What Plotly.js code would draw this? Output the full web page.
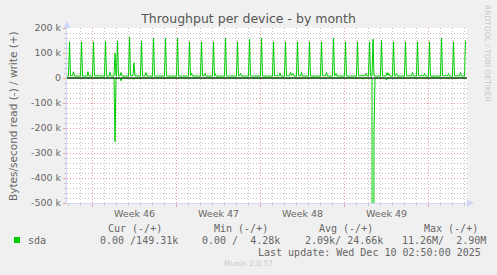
<!DOCTYPE html>
<html>
<head>
<meta charset="utf-8">
<script src="https://cdn.plot.ly/plotly-3.0.1.min.js"></script>
<style>
  html, body { margin: 0; padding: 0; background: #f0f0f0; }
  #chart { width: 497px; height: 275px; }
</style>
</head>
<body>
<div id="chart"></div>
<script>
// ---- Data (x in hours from the left edge of the 33-day window, y in bytes/second) ----
const writeHours = [
  0, 3, 5, 7, 11, 13, 15, 27, 29, 31, 40, 42, 44, 51, 53, 55, 75, 77, 79, 84, 86, 88,
  94, 96, 98, 99, 101, 103, 106, 108, 110, 123, 125, 127, 132, 134, 136, 147, 149, 151,
  156, 158, 160, 171, 173, 175, 195, 197, 199, 219, 221, 223, 243, 245, 247, 249, 251,
  267, 269, 271, 274, 276, 278, 291, 293, 295, 296, 298, 315, 317, 319, 339, 341, 343,
  345, 347, 349, 363, 365, 367, 387, 389, 391, 411, 413, 415, 424, 426, 428, 435, 437,
  439, 445, 447, 449, 452, 454, 459, 461, 463, 467, 469, 471, 483, 485, 487, 507, 509,
  511, 517, 519, 521, 531, 533, 535, 536, 538, 540, 555, 557, 559, 579, 581, 583, 596,
  598, 600, 603, 605, 607, 610, 612, 614, 627, 629, 631, 638, 640, 642, 644, 646, 651,
  653, 655, 657, 659, 661, 675, 677, 679, 689, 691, 693, 699, 701, 703, 713, 715, 717,
  723, 725, 727, 747, 749, 751, 761, 763, 765, 771, 773, 775, 785, 787, 789, 795, 797
];
const writeValues = [
  8000, 8000, 145000, 9000, 9000, 25000, 8000, 8000, 145000, 8000, 8000, 25000, 8000, 8000, 145000, 9000, 8000, 148000, 8000, 8000, 23000, 8000,
  8000, 100000, 9000, 8000, 148000, 9000, 9000, 22000, 8000, 8000, 165000, 9000, 10000, 61000, 9000, 8000, 148000, 8000,
  9000, 22000, 8000, 8000, 160000, 8000, 8000, 160000, 8000, 8000, 160000, 8000, 8000, 145000, 9000, 20000, 8000,
  8000, 145000, 9000, 9000, 18000, 8000, 8000, 145000, 9000, 18000, 8000, 8000, 160000, 8000, 8000, 145000, 9000,
  9000, 18000, 8000, 8000, 155000, 8000, 8000, 160000, 8000, 8000, 145000, 9000, 9000, 20000, 8000, 8000, 145000,
  9000, 9000, 22000, 10000, 18000, 8000, 8000, 145000, 9000, 9000, 22000, 8000, 8000, 145000, 8000, 8000, 145000,
  9000, 9000, 22000, 8000, 8000, 160000, 9000, 9000, 18000, 8000, 8000, 145000, 8000, 8000, 145000, 9000, 9000,
  18000, 8000, 8000, 145000, 8000, 8000, 155000, 8000, 8000, 150000, 9000, 9000, 22000, 10000, 18000, 8000, 8000,
  145000, 9000, 9000, 18000, 8000, 8000, 145000, 9000, 9000, 22000, 8000, 8000, 145000, 9000, 9000, 18000, 8000,
  8000, 145000, 8000, 8000, 160000, 9000, 9000, 18000, 8000, 8000, 145000, 9000, 9000, 22000, 8000, 8000, 149310
];
const readHours  = [0, 94, 96, 98, 106, 108, 110, 132, 134, 136, 590, 592, 594, 610, 612, 614, 616, 637, 639, 641, 800];
const readValues = [0, 0, -255000, 0, 0, -11000, 0, 0, -5000, 0, 0, -5000, 0, 0, -11260000, -220000, 0, 0, -8000, 0, 0];

const weekBoundaryHours = [50, 218, 386, 554, 722];
const weekLabelHours = [134, 302, 470, 638];
const weekLabels = ['Week 46', 'Week 47', 'Week 48', 'Week 49'];
const yTickVals = [-500000, -400000, -300000, -200000, -100000, 0, 100000, 200000];
const yTickText = ['-500 k', '-400 k', '-300 k', '-200 k', '-100 k', '0', '100 k', '200 k'];

const seriesName = 'sda';
const legendHeaders = ['Cur (-/+)', 'Min (-/+)', 'Avg (-/+)', 'Max (-/+)'];
const legendValues = ['0.00 /149.31k', '0.00 /  4.28k', '2.09k/ 24.66k', '11.26M/  2.90M'];
const lastUpdate = 'Last update: Wed Dec 10 02:50:00 2025';

// ---- Layout helpers (pixel -> paper) ----
const W = 497, H = 275, L = 67, R = 30, T = 28, B = 72;
const PW = W - L - R, PH = H - T - B;
const px = x => (x - L) / PW;
const py = y => (H - B - y) / PH;
const nb = s => s.replace(/ /g, '\u00a0');

const GREEN = '#00cc00';
const FONT = '#666666';
const MONO = 'DejaVu Sans Mono, monospace';
const SANS = 'DejaVu Sans, sans-serif';

const traces = [
  { x: readHours, y: readValues, type: 'scatter', mode: 'lines',
    line: { color: GREEN, width: 1, simplify: false }, hoverinfo: 'skip' },
  { x: writeHours, y: writeValues, type: 'scatter', mode: 'lines',
    line: { color: GREEN, width: 1, simplify: false }, hoverinfo: 'skip' }
];

const annotations = [];
weekLabelHours.forEach((h, i) => annotations.push({
  x: h, xref: 'x', y: py(213), yref: 'paper', text: weekLabels[i], showarrow: false,
  xanchor: 'center', yanchor: 'middle', font: { family: SANS, size: 9.5, color: FONT }
}));
annotations.push({
  x: px(13), y: py(116), xref: 'paper', yref: 'paper', text: 'Bytes/second read (-) / write (+)',
  textangle: -90, showarrow: false, xanchor: 'center', yanchor: 'middle',
  font: { family: SANS, size: 10.5, color: FONT }
});
annotations.push({
  x: px(488), y: py(53), xref: 'paper', yref: 'paper', text: 'RRDTOOL / TOBI OETIKER',
  textangle: 90, showarrow: false, xanchor: 'center', yanchor: 'middle',
  font: { family: SANS, size: 7.5, color: '#c8c8c8' }
});
const hdrX = [107, 213, 318, 423];
const valX = [99, 201, 304, 401];
legendHeaders.forEach((t, i) => annotations.push({
  x: px(hdrX[i]), y: py(228), xref: 'paper', yref: 'paper', text: nb(t), showarrow: false,
  xanchor: 'left', yanchor: 'middle', borderpad: 0, font: { family: MONO, size: 10, color: FONT }
}));
legendValues.forEach((t, i) => annotations.push({
  x: px(valX[i]), y: py(240), xref: 'paper', yref: 'paper', text: nb(t), showarrow: false,
  xanchor: 'left', yanchor: 'middle', borderpad: 0, font: { family: MONO, size: 10, color: FONT }
}));
annotations.push({
  x: px(27), y: py(240), xref: 'paper', yref: 'paper', text: seriesName, showarrow: false,
  xanchor: 'left', yanchor: 'middle', borderpad: 0, font: { family: MONO, size: 10, color: FONT }
});
annotations.push({
  x: px(482), y: py(252), xref: 'paper', yref: 'paper', text: nb(lastUpdate), showarrow: false,
  xanchor: 'right', yanchor: 'middle', borderpad: 0, font: { family: MONO, size: 10, color: FONT }
});
annotations.push({
  x: px(248), y: py(263), xref: 'paper', yref: 'paper', text: 'Munin 2.0.57', showarrow: false,
  xanchor: 'center', yanchor: 'middle', borderpad: 0, font: { family: SANS, size: 7.5, color: '#c8c8c8' }
});

const AX = '#cfd6f8';
const shapes = [
  // zero rule drawn above the lines, like rrdtool
  { type: 'line', xref: 'paper', x0: 0, x1: 1, yref: 'y', y0: 0, y1: 0,
    line: { color: '#000000', width: 1 }, layer: 'above' },
  // axis arrows
  { type: 'path', xref: 'paper', yref: 'paper', layer: 'above',
    path: `M ${px(63.5)} ${py(28)} L ${px(70.5)} ${py(28)} L ${px(67)} ${py(21)} Z`,
    fillcolor: AX, line: { width: 0 } },
  { type: 'line', xref: 'paper', yref: 'paper', x0: px(67), x1: px(67), y0: py(28), y1: py(24),
    line: { color: AX, width: 1 } },
  { type: 'path', xref: 'paper', yref: 'paper', layer: 'above',
    path: `M ${px(467)} ${py(199.5)} L ${px(467)} ${py(206.5)} L ${px(474)} ${py(203)} Z`,
    fillcolor: AX, line: { width: 0 } },
  // legend colour swatch
  { type: 'rect', xref: 'paper', yref: 'paper', x0: px(14), x1: px(20), y0: py(243), y1: py(237),
    fillcolor: GREEN, line: { width: 0 } }
];

const layout = {
  width: W, height: H,
  margin: { l: L, r: R, t: T, b: B, pad: 0 },
  paper_bgcolor: '#f0f0f0', plot_bgcolor: '#ffffff',
  showlegend: false,
  title: { text: 'Throughput per device - by month', x: 0.5, xref: 'container', xanchor: 'center',
           y: 1 - 19 / H, yref: 'container', yanchor: 'middle',
           font: { family: SANS, size: 12.5, color: '#555555' } },
  xaxis: {
    range: [0, 800], fixedrange: true,
    tickmode: 'array', tickvals: weekBoundaryHours, ticktext: weekBoundaryHours.map(() => ''),
    showgrid: true, gridcolor: '#e8a0a0', griddash: '1px,2px', gridwidth: 1,
    ticks: 'outside', ticklen: 3, tickcolor: '#e8a0a0',
    minor: { tick0: 2, dtick: 24, showgrid: true, gridcolor: '#c4c4c4', griddash: '1px,2px',
             ticks: 'outside', ticklen: 2, tickcolor: '#c8c8c8' },
    showline: true, linecolor: AX, linewidth: 1, zeroline: false
  },
  yaxis: {
    range: [-500000, 200000], fixedrange: true,
    tickmode: 'array', tickvals: yTickVals, ticktext: yTickText,
    tickfont: { family: SANS, size: 9.5, color: FONT },
    showgrid: true, gridcolor: '#e8a0a0', griddash: '1px,2px', gridwidth: 1,
    ticks: 'outside', ticklen: 3, tickcolor: '#e8a0a0',
    minor: { dtick: 20000, showgrid: true, gridcolor: '#c4c4c4', griddash: '1px,2px',
             ticks: 'outside', ticklen: 2, tickcolor: '#c8c8c8' },
    showline: true, linecolor: AX, linewidth: 1, zeroline: false
  },
  annotations: annotations,
  shapes: shapes
};

Plotly.newPlot('chart', traces, layout, { staticPlot: true, displayModeBar: false });
</script>
</body>
</html>
